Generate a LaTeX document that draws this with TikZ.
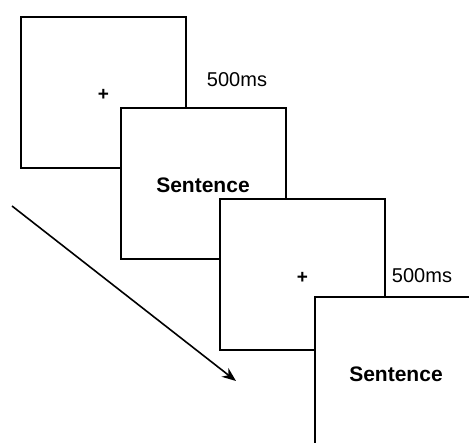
\documentclass[tikz,border=0pt]{standalone}
\usepackage{fontspec}
\setmainfont{Liberation Sans}
\usetikzlibrary{arrows.meta}
\tikzset{
  screen/.style={draw, fill=white, line width=2pt, inner sep=0pt,
    minimum width=165pt, minimum height=151pt},
  fixcross/.style={font=\fontsize{19}{20}\selectfont\bfseries, inner sep=0pt},
  sentence/.style={font=\fontsize{21}{24}\selectfont\bfseries},
  timing/.style={font=\fontsize{20}{24}\selectfont, inner sep=0pt}
}
\begin{document}
\begin{tikzpicture}[x=1pt,y=-1pt]
\clip (0,0) rectangle (469,443);

\node[screen] (fix1) at (103.5,92.5) {};
\node[fixcross] (cross1) at (103.5,94.5) {+};
\node[timing] (time1) at (237,80) {500ms};

\node[screen] (sent1) at (203,184) {};
\node[sentence] (word1) at (203,185) {Sentence};

\node[screen] (fix2) at (302.5,274.5) {};
\node[fixcross] (cross2) at (302.5,278) {+};
\node[timing] (time2) at (422,276) {500ms};

\node[screen] (sent2) at (397.5,372.5) {};
\node[sentence] (word2) at (396,374) {Sentence};

% time axis
\coordinate (tstart) at (12,206);
\coordinate (tend) at (236,381);
\draw[line width=1.6pt, -{Stealth[length=14pt,width=11pt]}] (tstart) -- (tend);
\end{tikzpicture}
\end{document}
